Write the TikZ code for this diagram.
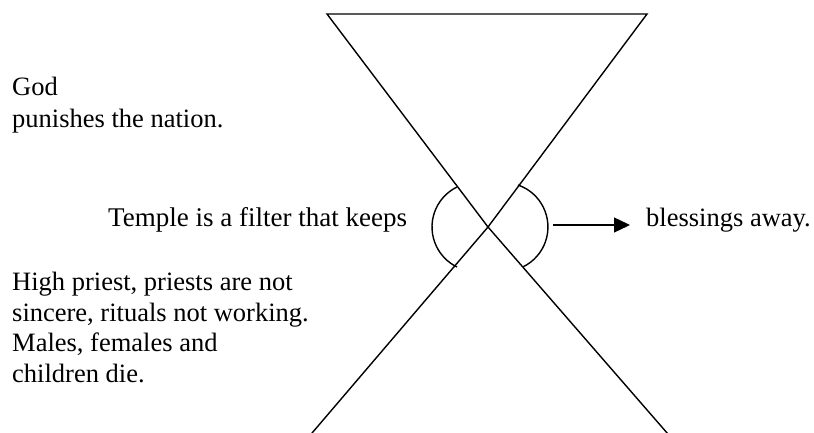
\documentclass[tikz,border=0pt]{standalone}
\usepackage{fontspec}
\setmainfont{Liberation Serif}
\usetikzlibrary{arrows.meta}
\tikzset{
  txt/.style={anchor=base west, inner sep=0pt, font=\fontsize{26.5}{30}\selectfont},
  bigtxt/.style={anchor=base west, inner sep=0pt, font=\fontsize{27}{31}\selectfont},
  ln/.style={line width=1.4pt, line cap=butt, line join=miter},
  arr/.style={line width=1.4pt, -{Triangle[length=16pt,width=15pt]}}
}
\begin{document}
\begin{tikzpicture}[x=1pt,y=-1pt]
\clip (0,0) rectangle (814,433);
\fill[white] (0,0) rectangle (814,433);
% vertices
\coordinate (tl) at (327,14);
\coordinate (tr) at (647,14);
\coordinate (x) at (488,227);
\coordinate (bl) at (298.4,449);
\coordinate (br) at (681,449);
% hourglass
\draw[ln] (x) -- (tl) -- (tr) -- cycle;
\draw[ln] (x) -- (bl);
\draw[ln] (x) -- (br);
% arcs
\draw[ln] (457,187) arc[start angle=244, end angle=116, radius=44.5];
\draw[ln] (518,185) arc[start angle=-71, end angle=64, radius=44.4];
% arrow
\coordinate (as) at (553,225);
\coordinate (ae) at (630,225);
\draw[arr] (as) -- (ae);
% texts
\node[txt] (god) at (12,95.7) {God};
\node[txt] (pun) at (12,127.5) {punishes the nation.};
\node[bigtxt] (temple) at (108,226.7) {Temple is a filter that keeps};
\node[txt] (bless) at (646,226) {blessings away.};
\node[txt] (hp1) at (12,290.5) {High priest, priests are not};
\node[txt] (hp2) at (12,321) {sincere, rituals not working.};
\node[txt] (hp3) at (12,351.7) {Males, females and};
\node[txt] (hp4) at (12,382.3) {children die.};
\end{tikzpicture}
\end{document}
